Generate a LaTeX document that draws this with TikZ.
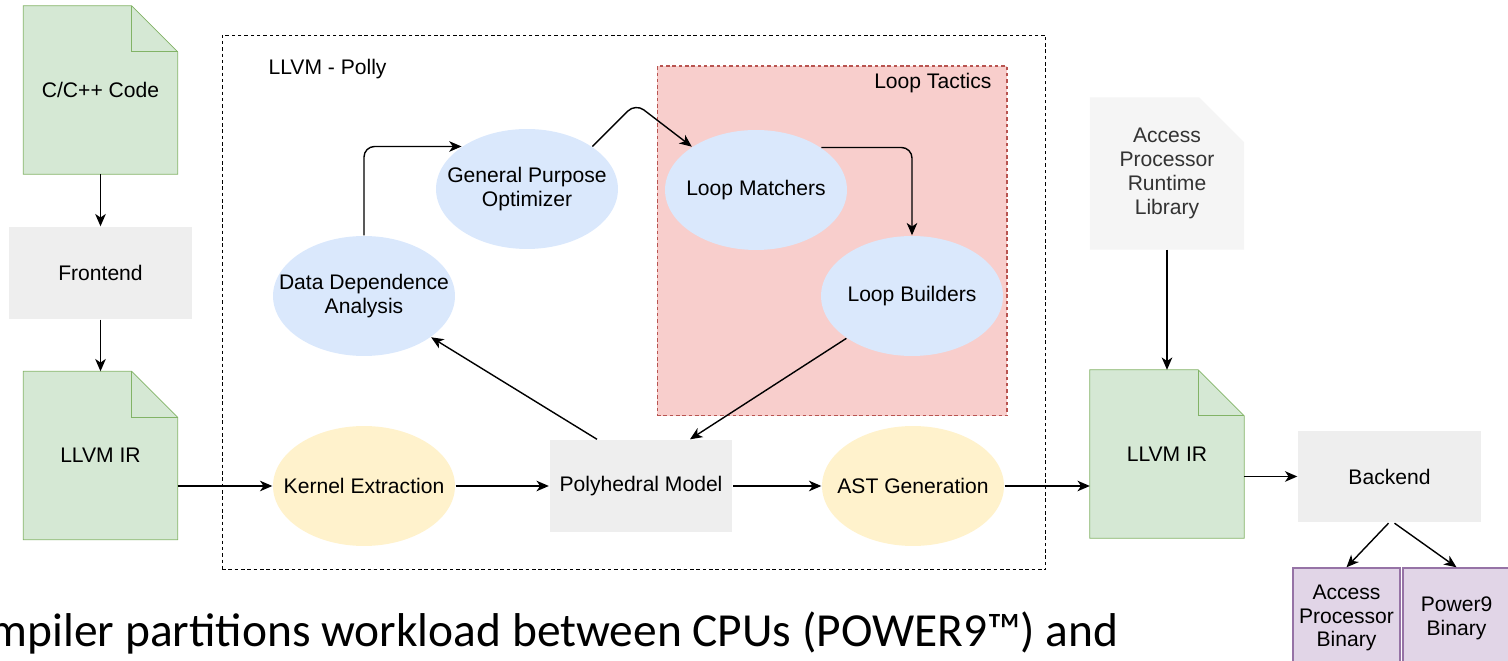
\documentclass[tikz,border=0pt]{standalone}
\usepackage{fontspec}
\setmainfont{Liberation Sans}
\newfontfamily\slidefont{Carlito}
\usepackage{tikz}
\usetikzlibrary{positioning, arrows.meta, shapes.geometric, calc, backgrounds}
\definecolor{notegreen}{HTML}{D5E8D4}
\definecolor{noteborder}{HTML}{82B366}
\definecolor{stepgray}{HTML}{EEEEEE}
\definecolor{libgray}{HTML}{F5F5F5}
\definecolor{libtext}{HTML}{333333}
\definecolor{passblue}{HTML}{DAE8FC}
\definecolor{passyellow}{HTML}{FFF2CC}
\definecolor{tacticsred}{HTML}{F8CECC}
\definecolor{tacticsborder}{HTML}{B85450}
\definecolor{binpurple}{HTML}{E1D5E7}
\definecolor{binborder}{HTML}{9673A6}

\newcommand{\docnote}[4]{%
  \begin{scope}[on background layer]
    \filldraw[fill=#3, draw=#4] (#1.north west) -- ($(#1.north east)+(-#2,0)$) -- ($(#1.north east)+(0,#2)$) -- (#1.south east) -- (#1.south west) -- cycle;
    \draw[draw=#4] ($(#1.north east)+(-#2,0)$) |- ($(#1.north east)+(0,#2)$);
  \end{scope}}

\begin{document}
\begin{tikzpicture}[
  x=0.02cm, y=-0.02cm,
  font=\fontsize{12}{13.6}\selectfont,
  line width=0.8pt,
  >={Stealth[length=7pt, width=6pt, inset=2pt]},
  notebox/.style={minimum width=3.06cm, minimum height=3.34cm, inner sep=0pt, align=center},
  stepbox/.style={fill=stepgray, minimum width=3.66cm, minimum height=1.84cm, inner sep=0pt},
  pass/.style={ellipse, minimum width=3.64cm, minimum height=2.4cm, inner xsep=-14pt, inner ysep=0pt, align=center},
  binbox/.style={draw=binborder, fill=binpurple, minimum width=2.14cm, minimum height=2cm, inner sep=0pt, align=center},
  flow/.style={->, rounded corners=6pt}
]
    \useasboundingbox (0,0) rectangle (1508,661);
    \clip (0,0) rectangle (1508,661);

    \node[notebox] (ccode) at (100.5,90) {C/C++ Code};
    \node[stepbox] (frontend) at (100.5,273) {Frontend};
    \node[notebox] (irin) at (100.5,455.5) {LLVM IR};
    \docnote{ccode}{46}{notegreen}{noteborder}
    \docnote{irin}{46}{notegreen}{noteborder}

    \node[draw, dash pattern=on 2pt off 1.6pt, line width=0.6pt, minimum width=16.48cm, minimum height=10.7cm] (polly) at (634,302.5) {};
    \node[anchor=west] (pollylabel) at (262,69) {LLVM - Polly};

    \node[draw=tacticsborder, fill=tacticsred, dash pattern=on 2pt off 1.6pt, line width=0.6pt, minimum width=7cm, minimum height=7cm] (tactics) at (832,241) {};
    \node[anchor=east] (tacticslabel) at (998,83) {Loop Tactics};

    \begin{scope}[every node/.style={pass, fill=passblue}]
        \node (dda) at (364,296) {Data Dependence\\Analysis};
        \node (gpo) at (527,189) {General Purpose\\Optimizer};
        \node (matchers) at (756,190) {Loop Matchers};
        \node (builders) at (912,296) {Loop Builders};
    \end{scope}

    \begin{scope}[every node/.style={pass, fill=passyellow}]
        \node (kernel) at (364,486) {Kernel Extraction};
        \node (astgen) at (913,486) {AST Generation};
    \end{scope}
    \node[stepbox] (poly) at (641,486) {Polyhedral Model};

    \node[notebox, minimum height=3.02cm, text=libtext] (runtime) at (1167,173.5) {Access\\Processor\\Runtime\\Library};
    \docnote{runtime}{45}{libgray}{none}
    \node[notebox] (irout) at (1167,454) {LLVM IR};
    \docnote{irout}{46}{notegreen}{noteborder}
    \node[stepbox] (backend) at (1389.5,476.5) {Backend};
    \node[binbox] (apbin) at (1346.5,618) {Access\\Processor\\Binary};
    \node[binbox] (p9bin) at (1456.5,618) {Power9\\Binary};

    \node[anchor=base east, font=\slidefont\fontsize{27}{32}\selectfont] (caption) at (1125,647) {Compiler partitions workload between CPUs (POWER9™) and};

    \draw[flow] (ccode) -- (frontend);
    \draw[flow] (frontend) -- (irin);
    \draw[flow] (irin.east |- kernel) -- (kernel);
    \draw[flow] (kernel) -- (poly);
    \draw[flow] (poly) -- (astgen);
    \draw[flow] (astgen) -- (astgen -| irout.west);
    \draw[flow] ($(poly.north)+(-44,0)$) -- (dda);
    \draw[flow] (dda) |- (gpo.147);
    \draw[flow] (gpo.33) -- ++(43,-43) -- (matchers.146);
    \draw[flow] (matchers.33) -| (builders);
    \draw[flow] (builders) -- ($(poly.north)+(49,0)$);
    \draw[flow] (runtime) -- (irout);
    \draw[flow] (irout.east |- backend) -- (backend);
    \draw[flow] ($(backend.south)+(-1,0)$) -- (apbin.north);
    \draw[flow] ($(backend.south)+(5,0)$) -- (p9bin.north);
\end{tikzpicture}
\end{document}
